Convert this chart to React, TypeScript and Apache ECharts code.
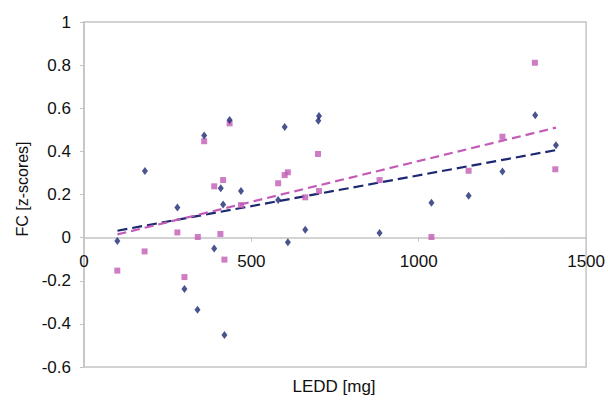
import React, { useEffect, useRef } from "react";
import * as echarts from "echarts";

const navyX = [99.5, 182, 279, 300, 339, 359, 389, 408.5, 415.6, 419.5, 435, 469, 580, 599.5, 609, 661, 700, 702, 883, 1038, 1149, 1250, 1348, 1410];
const navyY = [-0.016, 0.309, 0.14, -0.238, -0.334, 0.474, -0.051, 0.229, 0.154, -0.452, 0.545, 0.216, 0.174, 0.513, -0.022, 0.037, 0.542, 0.564, 0.021, 0.162, 0.194, 0.307, 0.567, 0.428];

const pinkX = [99.5, 181, 279, 300, 340, 359, 389, 407.5, 415.6, 419.5, 435, 469, 580, 599.5, 609, 661, 699, 702, 883, 1038, 1149, 1250, 1347, 1408];
const pinkY = [-0.153, -0.064, 0.024, -0.183, 0.003, 0.447, 0.238, 0.017, 0.267, -0.102, 0.53, 0.151, 0.252, 0.29, 0.303, 0.187, 0.388, 0.216, 0.267, 0.003, 0.31, 0.468, 0.811, 0.317];

const navyTrendX = [100, 1410];
const navyTrendY = [0.032, 0.406];
const pinkTrendX = [100, 1410];
const pinkTrendY = [0.015, 0.51];

const Y_MIN = -0.6;
const Y_MAX = 1;
const PLOT_H = 345;

const NAVY = "#1c2870";
const PINK = "#c25cb6";
const FONT = "Liberation Sans, Arial, sans-serif";

export default function App() {
  const ref = useRef<HTMLDivElement>(null);
  useEffect(() => {
    document.body.style.margin = "0";
    const chart = echarts.init(ref.current!, undefined, { renderer: "svg" });
    const zip = (xs: number[], ys: number[]) => xs.map((x, i) => [x, ys[i]]);
    const zeroOffset = -PLOT_H * (0 - Y_MIN) / (Y_MAX - Y_MIN);
    chart.setOption({
      animation: false,
      backgroundColor: "#fff",
      textStyle: { fontFamily: FONT },
      grid: { left: 84, top: 22, right: 21, bottom: 40, show: true, borderColor: "#c4c4c4", borderWidth: 1.5 },
      xAxis: {
        type: "value",
        min: 0,
        max: 1500,
        interval: 500,
        position: "bottom",
        offset: zeroOffset,
        axisLine: { show: true, onZero: false, lineStyle: { color: "#c4c4c4", width: 1.5 } },
        axisTick: { show: true, length: 4, lineStyle: { color: "#c4c4c4" } },
        axisLabel: {
          fontSize: 17,
          color: "#111",
          margin: 15,
          fontFamily: FONT,
          formatter: (v: number) => String(v),
        },
        splitLine: { show: false },
      },
      yAxis: {
        type: "value",
        min: Y_MIN,
        max: Y_MAX,
        interval: 0.2,
        axisLine: { show: true, onZero: false, lineStyle: { color: "#c4c4c4", width: 1.5 } },
        axisTick: { show: true, length: 4, lineStyle: { color: "#c4c4c4" } },
        axisLabel: {
          fontSize: 17,
          color: "#111",
          margin: 13,
          fontFamily: FONT,
          formatter: (v: number) => String(parseFloat(v.toFixed(1))),
        },
        splitLine: { show: false },
      },
      graphic: [
        {
          type: "text",
          x: 22,
          y: 189,
          rotation: Math.PI / 2,
          style: { text: "FC [z-scores]", fontSize: 16, fontFamily: FONT, fill: "#111", align: "center", verticalAlign: "middle" },
        },
        {
          type: "text",
          x: 334,
          y: 386,
          style: { text: "LEDD [mg]", fontSize: 17, fontFamily: FONT, fill: "#111", align: "center", verticalAlign: "middle" },
        },
      ],
      series: [
        {
          type: "line",
          data: zip(navyTrendX, navyTrendY),
          showSymbol: false,
          lineStyle: { color: NAVY, width: 2.2, type: [10, 5] },
          z: 2,
        },
        {
          type: "line",
          data: zip(pinkTrendX, pinkTrendY),
          showSymbol: false,
          lineStyle: { color: PINK, width: 2.2, type: [9, 5] },
          z: 2,
        },
        {
          type: "scatter",
          data: zip(pinkX, pinkY),
          symbol: "rect",
          symbolSize: 6,
          itemStyle: { color: PINK },
          z: 3,
        },
        {
          type: "scatter",
          data: zip(navyX, navyY),
          symbol: "diamond",
          symbolSize: [6, 8],
          itemStyle: { color: NAVY },
          z: 4,
        },
      ],
    });
    return () => chart.dispose();
  }, []);
  return <div ref={ref} style={{ width: 608, height: 407 }} />;
}
